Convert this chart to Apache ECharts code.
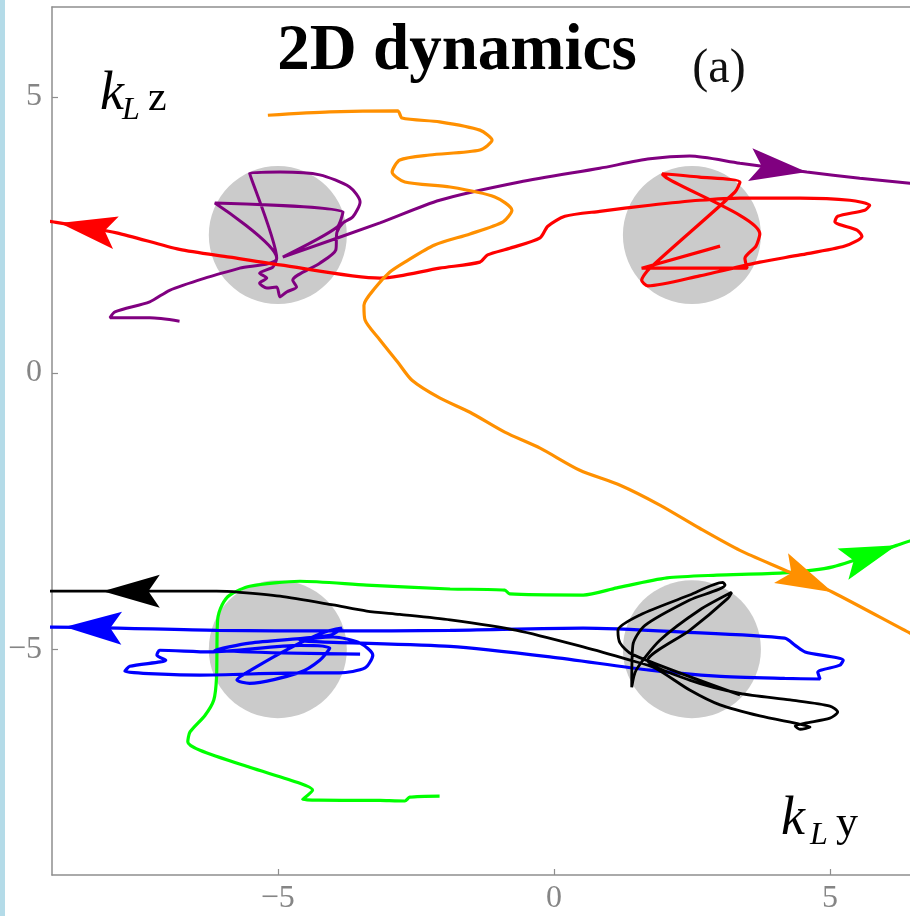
<!DOCTYPE html>
<html>
<head>
<meta charset="utf-8">
<script src="https://cdn.jsdelivr.net/npm/echarts@6/dist/echarts.min.js"></script>
<style>
  html, body { margin: 0; padding: 0; background: #ffffff; }
  #chart { width: 910px; height: 916px; }
</style>
</head>
<body>
<div id="chart"></div>
<script>
// Plot window (k_L y horizontally, k_L z vertically) and tick positions
const xRange = [-9.09, 6.45];
const yRange = [-9.09, 6.63];
const tickValues = [-5, 0, 5];

// Trap sites drawn as grey discs
const trapCenters = [[-5, 2.5], [2.5, 2.5], [-5, -5], [2.5, -5]];
const trapRadius = 1.25;

// Trajectories, [k_L y, k_L z]
const orangePath = [
  [-5.18, 4.67], [-4.06, 4.73], [-2.83, 4.75], [-2.75, 4.62], [-2.07, 4.55], [-1.34, 4.40],
  [-1.12, 4.22], [-1.34, 4.04], [-2.25, 3.95], [-2.79, 3.86], [-2.93, 3.64], [-2.70, 3.46],
  [-1.88, 3.37], [-1.07, 3.19], [-0.76, 2.95], [-0.92, 2.74], [-1.52, 2.52], [-2.16, 2.32],
  [-2.70, 2.01], [-2.97, 1.83], [-3.24, 1.54], [-3.44, 1.23], [-3.42, 0.96], [-3.15, 0.60],
  [-2.83, 0.20], [-2.57, -0.13], [-2.07, -0.45], [-1.52, -0.71], [-0.89, -1.07], [-0.25, -1.36],
  [0.47, -1.76], [1.20, -2.03], [1.92, -2.39], [2.64, -2.81], [3.37, -3.21], [4.28, -3.61],
  [5.05, -3.97], [6.45, -4.71], [6.81, -4.89]
];

const purplePath = [
  [-6.78, 0.94], [-7.32, 1.00], [-8.04, 1.00], [-7.95, 1.11], [-7.32, 1.29], [-6.96, 1.50],
  [-6.32, 1.72], [-5.69, 1.90], [-5.02, 2.08], [-5.51, 3.62], [-4.96, 3.64], [-4.24, 3.59],
  [-3.70, 3.37], [-3.51, 3.10], [-3.64, 2.83], [-3.82, 2.72], [-3.93, 2.55], [-3.95, 2.23],
  [-4.24, 1.99], [-4.73, 1.68], [-4.66, 1.56], [-4.84, 1.47], [-4.96, 1.38], [-5.02, 1.56],
  [-5.20, 1.54], [-5.33, 1.63], [-5.20, 1.72], [-5.33, 1.81], [-5.09, 1.92], [-5.02, 2.08],
  [-6.14, 3.08], [-3.82, 2.92], [-3.93, 2.64], [-4.91, 2.10], [-3.15, 2.72], [-2.07, 3.13],
  [-0.62, 3.46], [0.83, 3.71], [1.74, 3.88], [2.46, 3.93], [3.37, 3.80], [4.58, 3.64],
  [5.54, 3.53], [6.45, 3.44], [6.81, 3.39]
];

const redPath = [
  [3.01, 2.30], [1.59, 1.90], [2.64, 1.90], [3.50, 1.90], [3.46, 2.08], [3.66, 2.30],
  [3.73, 2.52], [2.05, 3.53], [1.96, 3.61], [2.64, 3.55], [3.37, 3.46], [3.28, 3.28],
  [1.74, 1.90], [1.59, 1.68], [1.70, 1.58], [2.64, 1.76], [3.73, 2.01], [4.46, 2.14],
  [5.27, 2.30], [5.58, 2.48], [5.49, 2.59], [5.09, 2.74], [5.14, 2.84], [5.63, 2.95],
  [5.72, 3.04], [5.36, 3.13], [4.46, 3.17], [3.37, 3.17], [2.64, 3.13], [1.74, 3.04],
  [0.83, 2.93], [0.20, 2.84], [-0.11, 2.66], [-0.25, 2.45], [-0.80, 2.26], [-1.20, 2.14],
  [-1.34, 2.01], [-2.07, 1.90], [-2.79, 1.76], [-3.15, 1.72], [-4.96, 1.96], [-5.87, 2.10],
  [-6.78, 2.24], [-7.92, 2.54], [-9.08, 2.74], [-9.49, 2.79]
];

const greenPath = [
  [-2.07, -7.66], [-2.61, -7.68], [-2.70, -7.75], [-3.15, -7.74], [-4.55, -7.72], [-4.37, -7.55],
  [-4.60, -7.43], [-5.51, -7.14], [-6.41, -6.83], [-6.63, -6.68], [-6.59, -6.50], [-6.32, -6.20],
  [-6.16, -5.92], [-6.11, -5.51], [-6.09, -4.47], [-6.01, -4.20], [-5.87, -4.02], [-5.51, -3.86],
  [-4.60, -3.77], [-3.39, -3.84], [-1.88, -3.91], [-0.89, -3.93], [-0.80, -4.00], [0.53, -4.02],
  [1.14, -3.89], [2.05, -3.71], [2.95, -3.66], [4.15, -3.62], [5.05, -3.51], [6.21, -3.12],
  [6.45, -3.04], [6.81, -2.93]
];

const blackPath = [
  [3.37, -5.83], [1.41, -5.09], [1.20, -4.89], [1.16, -4.66], [1.56, -4.38], [2.46, -4.02],
  [3.06, -3.79], [3.10, -3.84], [2.46, -4.11], [1.65, -4.57], [1.43, -4.93], [1.41, -5.69],
  [1.49, -5.38], [1.92, -4.84], [2.64, -4.29], [3.22, -3.97], [3.15, -4.08], [2.46, -4.66],
  [1.70, -5.20], [2.46, -5.56], [3.37, -5.80], [4.28, -5.92], [5.00, -6.03], [5.14, -6.14],
  [5.00, -6.25], [4.55, -6.34], [4.37, -6.39], [4.46, -6.45], [4.64, -6.41], [4.46, -6.36],
  [3.73, -6.21], [3.01, -6.01], [2.46, -5.74], [1.83, -5.34], [1.38, -5.20], [0.53, -4.96],
  [-0.67, -4.66], [-1.88, -4.47], [-2.79, -4.37], [-3.39, -4.31], [-4.00, -4.20], [-4.96, -4.04],
  [-5.69, -3.97], [-6.11, -3.95], [-8.17, -3.95], [-9.08, -3.95], [-9.49, -3.95]
];

const bluePath = [
  [-3.51, -5.09], [-6.14, -5.02], [-5.51, -4.89], [-4.06, -4.75], [-3.84, -4.62], [-4.15, -4.69],
  [-4.78, -4.98], [-5.42, -5.34], [-5.74, -5.56], [-5.51, -5.62], [-4.60, -5.42], [-4.24, -5.20],
  [-4.06, -4.98], [-4.60, -4.93], [-6.23, -5.05], [-7.14, -5.02], [-7.19, -5.11], [-7.03, -5.20],
  [-7.68, -5.31], [-7.77, -5.40], [-6.41, -5.47], [-4.60, -5.43], [-3.88, -5.43], [-3.42, -5.34],
  [-3.28, -5.11], [-3.51, -4.89], [-4.00, -4.78], [-4.60, -4.84], [-1.88, -4.95], [-0.07, -5.14],
  [1.74, -5.38], [2.95, -5.49], [4.18, -5.53], [4.82, -5.54], [4.78, -5.42], [5.18, -5.29],
  [5.24, -5.20], [4.55, -5.05], [4.37, -4.93], [4.18, -4.80], [2.34, -4.69], [0.53, -4.62],
  [-1.88, -4.66], [-4.00, -4.67], [-6.11, -4.66], [-9.08, -4.60], [-9.49, -4.60]
];

// Arrowheads: [tip y, tip z, point behind y, point behind z]
const redArrow    = [-8.95, 2.72, -7.92, 2.54];
const purpleArrow = [4.58, 3.64, 3.37, 3.80];
const orangeArrow = [5.05, -3.97, 4.28, -3.61];
const greenArrow  = [6.21, -3.12, 5.18, -3.48];
const blackArrow  = [-8.17, -3.95, -7.14, -3.95];
const blueArrow   = [-8.86, -4.60, -7.90, -4.62];

const SERIF = '"Liberation Serif", "DejaVu Serif", serif';
const AXIS_GREY = '#8e8e8e';

const trajectories = [
  { name: 'green',  data: greenPath,  color: '#00ff00', width: 3.2, arrow: greenArrow },
  { name: 'blue',   data: bluePath,   color: '#0000ff', width: 3.2, arrow: blueArrow },
  { name: 'black',  data: blackPath,  color: '#000000', width: 2.8, arrow: blackArrow },
  { name: 'purple', data: purplePath, color: '#800080', width: 3,   arrow: purpleArrow },
  { name: 'red',    data: redPath,    color: '#ff0000', width: 3.2, arrow: redArrow },
  { name: 'orange', data: orangePath, color: '#ff9000', width: 3.2, arrow: orangeArrow }
];

function renderTrap(params, api) {
  const c = api.coord([api.value(0), api.value(1)]);
  const s = api.size([trapRadius, trapRadius]);
  return {
    type: 'circle',
    shape: { cx: c[0], cy: c[1], r: s[0] },
    style: { fill: '#cbcbcb' }
  };
}

function makeArrowRenderer(color) {
  return function (params, api) {
    const tip = api.coord([api.value(0), api.value(1)]);
    const back = api.coord([api.value(2), api.value(3)]);
    const dx = tip[0] - back[0], dy = tip[1] - back[1];
    const d = Math.hypot(dx, dy) || 1;
    const ux = dx / d, uy = dy / d, px = -uy, py = ux;
    const L = 57, W = 16.5, N = 0.8;
    const pts = [
      [tip[0], tip[1]],
      [tip[0] - L * ux + W * px, tip[1] - L * uy + W * py],
      [tip[0] - N * L * ux, tip[1] - N * L * uy],
      [tip[0] - L * ux - W * px, tip[1] - L * uy - W * py]
    ];
    return { type: 'polygon', shape: { points: pts }, style: { fill: color } };
  };
}

const series = [{
  type: 'custom',
  name: 'traps',
  renderItem: renderTrap,
  data: trapCenters,
  z: 1,
  silent: true
}];

trajectories.forEach(function (t, i) {
  series.push({
    type: 'line',
    name: t.name,
    data: t.data,
    showSymbol: false,
    symbol: 'none',
    smooth: 0.25,
    lineStyle: { color: t.color, width: t.width },
    z: 2 + i * 0.01,
    silent: true
  });
});
trajectories.forEach(function (t) {
  series.push({
    type: 'custom',
    name: t.name + '-arrow',
    renderItem: makeArrowRenderer(t.color),
    data: [t.arrow],
    z: 5,
    silent: true
  });
});

const minusFmt = function (v) { return String(v).replace('-', '\u2212'); };

const option = {
  animation: false,
  backgroundColor: '#ffffff',
  grid: { left: 52, right: 0, top: 7, bottom: 41, containLabel: false },
  xAxis: [{
    type: 'value', min: xRange[0], max: xRange[1],
    axisLine: { show: true, onZero: false, lineStyle: { color: AXIS_GREY, width: 1.5 } },
    axisTick: { show: true, inside: true, length: 6, customValues: tickValues, lineStyle: { color: AXIS_GREY, width: 1.2 } },
    axisLabel: { customValues: tickValues, formatter: minusFmt, fontFamily: SERIF, fontSize: 32, color: '#858585', margin: 8 },
    splitLine: { show: false }
  }, {
    type: 'value', position: 'top', min: xRange[0], max: xRange[1],
    axisLine: { show: true, onZero: false, lineStyle: { color: AXIS_GREY, width: 1.5 } },
    axisTick: { show: false }, axisLabel: { show: false }, splitLine: { show: false }
  }],
  yAxis: [{
    type: 'value', min: yRange[0], max: yRange[1],
    axisLine: { show: true, onZero: false, lineStyle: { color: AXIS_GREY, width: 1.5 } },
    axisTick: { show: true, inside: true, length: 6, customValues: tickValues, lineStyle: { color: AXIS_GREY, width: 1.2 } },
    axisLabel: { customValues: tickValues, formatter: minusFmt, fontFamily: SERIF, fontSize: 32, color: '#858585', margin: 10 },
    splitLine: { show: false }
  }],
  series: series,
  graphic: [
    { type: 'rect', left: 0, top: 0, shape: { width: 5, height: 916 }, style: { fill: '#b4dbe8' }, z: 10 },
    { type: 'text', x: 457, y: 52, style: { text: '2D dynamics', font: 'bold 65px ' + SERIF, fill: '#000', align: 'center', verticalAlign: 'middle' }, z: 10 },
    { type: 'text', x: 719, y: 69, style: { text: '(a)', font: '48px ' + SERIF, fill: '#111', align: 'center', verticalAlign: 'middle' }, z: 10 },
    { type: 'text', x: 100, y: 95, style: { text: 'k', font: 'italic 54px ' + SERIF, fill: '#000', align: 'left', verticalAlign: 'middle' }, z: 10 },
    { type: 'text', x: 122, y: 111, style: { text: 'L', font: 'italic 32px ' + SERIF, fill: '#000', align: 'left', verticalAlign: 'middle' }, z: 10 },
    { type: 'text', x: 148, y: 99, style: { text: 'z', font: '42px ' + SERIF, fill: '#000', align: 'left', verticalAlign: 'middle' }, z: 10 },
    { type: 'text', x: 781, y: 820, style: { text: 'k', font: 'italic 54px ' + SERIF, fill: '#000', align: 'left', verticalAlign: 'middle' }, z: 10 },
    { type: 'text', x: 810, y: 836, style: { text: 'L', font: 'italic 32px ' + SERIF, fill: '#000', align: 'left', verticalAlign: 'middle' }, z: 10 },
    { type: 'text', x: 836, y: 824, style: { text: 'y', font: '44px ' + SERIF, fill: '#000', align: 'left', verticalAlign: 'middle' }, z: 10 }
  ]
};

const chart = echarts.init(document.getElementById('chart'), null, { renderer: 'canvas' });
chart.setOption(option);
</script>
</body>
</html>
